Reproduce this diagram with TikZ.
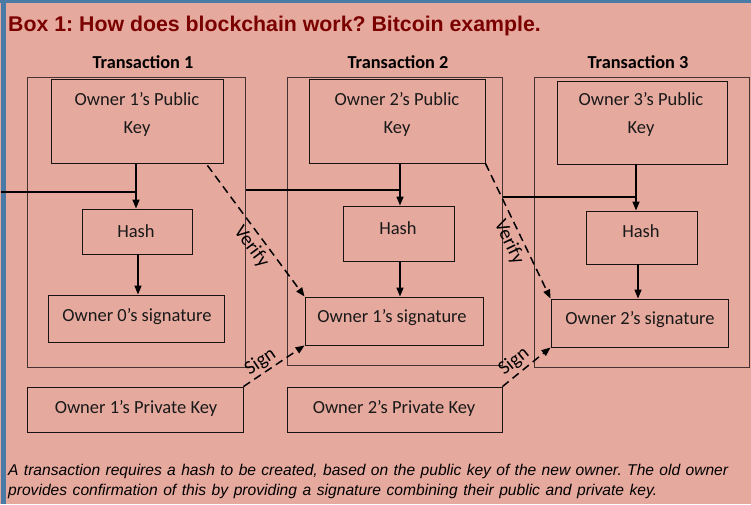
\documentclass[tikz,border=0pt]{standalone}
\usepackage{fontspec}
\setmainfont{Carlito}
\newfontfamily\arialfont{Liberation Sans}
\usetikzlibrary{arrows.meta,calc}
\frenchspacing

\definecolor{boxbg}{RGB}{230,169,158}
\definecolor{frameblue}{RGB}{74,122,166}
\definecolor{titlered}{RGB}{122,0,0}
\definecolor{inkline}{RGB}{25,18,18}
\definecolor{outerline}{RGB}{70,50,50}

% draws an empty framed rectangle named #6 spanning (#2,#3)--(#4,#5)
\newcommand\boxpanel[6][]{%
  \node[panel,#1, minimum width={#4-#2}, minimum height={#5-#3}]
    (#6) at ({(#2+#4)/2},{(#3+#5)/2}) {};}

\begin{document}
\begin{tikzpicture}[x=1pt,y=-1pt,
  panel/.style={draw=inkline, line width=0.9pt, rectangle, inner sep=0pt},
  txbox/.style={draw=outerline, line width=1pt},
  lbl/.style={font=\fontsize{18.5}{28}\selectfont, align=center, inner sep=0pt, text=black!90},
  ttl/.style={font=\bfseries\fontsize{18.3}{22}\selectfont, inner sep=0pt},
  flow/.style={line width=1.6pt, -{Triangle[length=9pt,width=7pt]}},
  feed/.style={line width=1.6pt},
  dashlink/.style={line width=1.5pt, dash pattern=on 8pt off 5pt, -{Triangle[length=9pt,width=7pt]}},
  tag/.style={font=\fontsize{19.5}{22}\selectfont, inner sep=1pt, sloped},
  capline/.style={anchor=base west, inner sep=0pt, font=\arialfont\itshape\fontsize{15.6}{20}\selectfont}
]
% background and frame
\fill[boxbg] (0,0) rectangle (751,504);
\fill[frameblue] (0,0) rectangle (751,3);
\fill[frameblue] (1,0) rectangle (6,504);
\useasboundingbox (0,0) rectangle (751,504);

% heading
\node[anchor=base west, inner sep=0pt, text=titlered,
      font=\arialfont\bfseries\fontsize{21.3}{24}\selectfont] (heading) at (8,31)
  {Box 1: How does blockchain work? Bitcoin example.};

% transaction columns
\node[ttl] (tt1) at (143,62) {Transaction 1};
\node[ttl] (tt2) at (398,62) {Transaction 2};
\node[ttl] (tt3) at (638,62) {Transaction 3};

\boxpanel[txbox]{27}{77}{245}{367}{tx1}
\boxpanel[txbox]{287}{77}{502}{365}{tx2}
\boxpanel[txbox]{534}{77}{749}{367}{tx3}

% public keys
\boxpanel{51}{79}{223}{163}{pk1}
\boxpanel{309}{79}{485}{163}{pk2}
\boxpanel{557}{81}{727}{164}{pk3}
\node[lbl] (pk1t) at (137,114) {Owner 1’s Public\\Key};
\node[lbl] (pk2t) at (397,114) {Owner 2’s Public\\Key};
\node[lbl] (pk3t) at (641,114) {Owner 3’s Public\\Key};

% hashes
\boxpanel{82}{209}{192}{254}{hash1}
\boxpanel{343}{206}{454}{261}{hash2}
\boxpanel{586}{211}{697}{264}{hash3}
\node[lbl] (hash1t) at (136,231) {Hash};
\node[lbl] (hash2t) at (398,228) {Hash};
\node[lbl] (hash3t) at (641,231) {Hash};

% signatures
\boxpanel{48}{295}{224}{342}{sig1}
\boxpanel{305}{297}{483}{345}{sig2}
\boxpanel{551}{299}{728}{347}{sig3}
\node[lbl] (sig1t) at (137,317) {Owner 0’s signature};
\node[lbl] (sig2t) at (392,318) {Owner 1’s signature};
\node[lbl] (sig3t) at (640,320) {Owner 2’s signature};

% private keys
\boxpanel{27}{387}{243}{432}{priv1}
\boxpanel{287}{387}{502}{432}{priv2}
\node[lbl] (priv1t) at (136,408) {Owner 1’s Private Key};
\node[lbl] (priv2t) at (394,408) {Owner 2’s Private Key};

% junctions on the key-to-hash arrows
\coordinate (j1) at (136,192);
\coordinate (j2) at (400,190);
\coordinate (j3) at (636,197);
\coordinate (inlet) at (1,192);

% key -> hash -> signature
\draw[flow] (pk1.south -| j1) -- (hash1.north -| j1);
\draw[flow] (pk2.south -| j2) -- (hash2.north -| j2);
\draw[flow] (pk3.south -| j3) -- (hash3.north -| j3);
\draw[flow] ([xshift=1pt]hash1.south) -- ([xshift=1pt]hash1.south |- sig1.north);
\draw[flow] (hash2.south -| j2) -- (sig2.north -| j2);
\draw[flow] ([xshift=2pt]hash3.south -| j3) -- ([xshift=2pt]sig3.north -| j3);

% chain links between transactions
\draw[feed] (inlet) -- (j1);
\draw[feed] (tx1.east |- j2) -- (j2);
\draw[feed] (tx2.east |- j3) -- (j3);

% verification and signing
\draw[dashlink] ([xshift=-16pt,yshift=-2pt]pk1.south east)
  -- node[tag, below=3pt, pos=0.56] {Verify} (sig2.north west);
\draw[dashlink] (pk2.south east)
  -- node[tag, below=3pt, pos=0.54] {Verify} (sig3.north west);
\draw[dashlink] (priv1.north east)
  -- node[tag, above=1pt, pos=0.38] {Sign} (sig2.south west);
\draw[dashlink] (priv2.north east)
  -- node[tag, above=2pt, pos=0.40] {Sign} (sig3.south west);

% caption
\node[capline] (cap1) at (8,475)
  {\makebox[720pt][s]{A transaction requires a hash to be created, based on the public key of the new owner. The old owner}};
\node[capline] (cap2) at (8,495)
  {\makebox[649pt][s]{provides confirmation of this by providing a signature combining their public and private key.}};
\end{tikzpicture}
\end{document}
